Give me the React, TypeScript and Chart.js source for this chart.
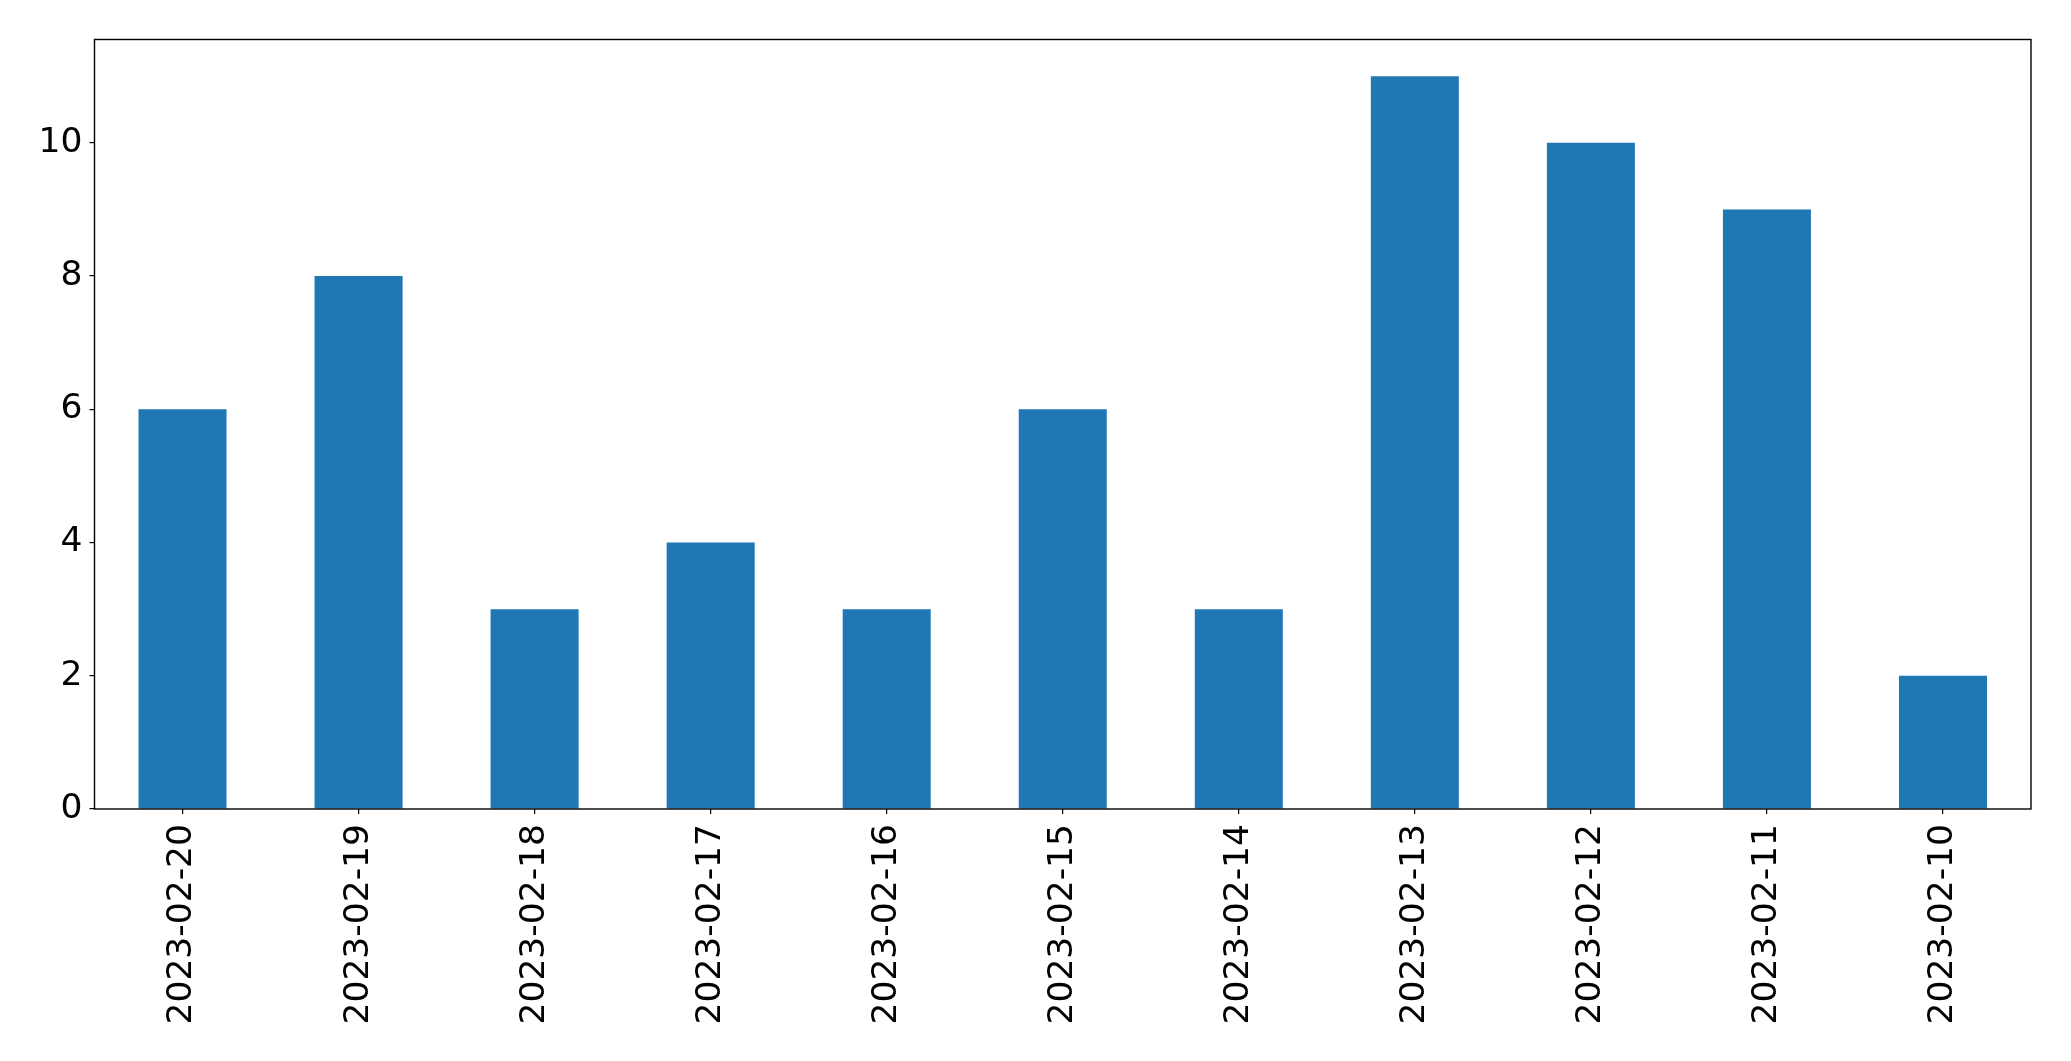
import React, { useEffect, useRef } from "react";
import { Chart, registerables } from "chart.js";

Chart.register(...registerables);

const categories = [
  "2023-02-20", "2023-02-19", "2023-02-18", "2023-02-17", "2023-02-16",
  "2023-02-15", "2023-02-14", "2023-02-13", "2023-02-12", "2023-02-11", "2023-02-10",
];
const counts = [6, 8, 3, 4, 3, 6, 3, 11, 10, 9, 2];
const yTicks = [0, 2, 4, 6, 8, 10];

const W = 2071;
const H = 1061;
const PLOT_LEFT = 94.5;
const PLOT_TOP = 39.5;
const PLOT_RIGHT = 2031;
const PLOT_BOTTOM = 809;

const framePlugin = {
  id: "frame",
  afterDraw(chart: any) {
    const { ctx, chartArea } = chart;
    ctx.save();
    ctx.strokeStyle = "#000";
    ctx.lineWidth = 1.4;
    ctx.strokeRect(chartArea.left, chartArea.top, chartArea.right - chartArea.left, chartArea.bottom - chartArea.top);
    ctx.restore();
  },
};

export default function App() {
  const ref = useRef<HTMLCanvasElement | null>(null);
  useEffect(() => {
    if (!ref.current) return;
    const chart = new Chart(ref.current, {
      type: "bar",
      data: {
        labels: categories,
        datasets: [
          {
            data: counts,
            backgroundColor: "#1f77b4",
            borderWidth: 0,
            barPercentage: 0.5,
            categoryPercentage: 1,
          },
        ],
      },
      plugins: [framePlugin],
      options: {
        animation: false,
        responsive: false,
        devicePixelRatio: 1,
        layout: { padding: { left: 0, top: PLOT_TOP, right: W - PLOT_RIGHT, bottom: 0 } },
        plugins: { legend: { display: false }, tooltip: { enabled: false } },
        scales: {
          x: {
            type: "category",
            offset: true,
            afterFit(scale: any) {
              scale.height = H - PLOT_BOTTOM;
            },
            grid: { display: true, offset: false, drawOnChartArea: false, drawTicks: true, tickLength: 5, color: "#000", lineWidth: 1.2 },
            border: { display: false },
            ticks: {
              color: "#000",
              font: { family: "DejaVu Sans", size: 34.5 },
              maxRotation: 90,
              minRotation: 90,
              padding: 10,
              autoSkip: false,
            },
          },
          y: {
            min: 0,
            max: 11.55,
            afterFit(scale: any) {
              scale.width = PLOT_LEFT;
            },
            afterBuildTicks(scale: any) {
              scale.ticks = yTicks.map((v) => ({ value: v }));
            },
            grid: { display: true, drawOnChartArea: false, drawTicks: true, tickLength: 5, color: "#000", lineWidth: 1.2 },
            border: { display: false },
            ticks: {
              color: "#000",
              font: { family: "DejaVu Sans", size: 34.5 },
              padding: 7,
              includeBounds: false,
              stepSize: 2,
            },
          },
        },
      },
    });
    return () => chart.destroy();
  }, []);
  return (
    <div style={{ position: "fixed", left: 0, top: 0, width: W, height: H, background: "#fff" }}>
      <canvas ref={ref} width={W} height={H} style={{ width: W, height: H, display: "block" }} />
    </div>
  );
}
